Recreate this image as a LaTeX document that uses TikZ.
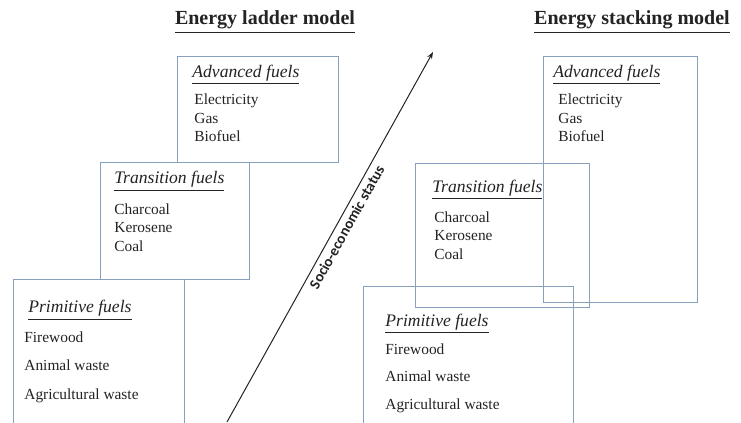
\documentclass[tikz,border=0pt]{standalone}
\usepackage{fontspec}
\setmainfont{Liberation Serif}
\newfontfamily\calibrifont{Carlito}
\usetikzlibrary{arrows.meta,fit}
\definecolor{boxblue}{RGB}{135,160,190}
\definecolor{inkgray}{RGB}{35,35,35}

\begin{document}
\begin{tikzpicture}[x=0.5pt,y=-0.5pt,
  fuelbox/.style={draw=boxblue, line width=0.5pt, inner sep=0pt},
  heading/.style={anchor=base, text=inkgray, font=\fontsize{10}{12}\selectfont\bfseries},
  fueltitle/.style={anchor=base west, inner sep=0pt, text=inkgray, font=\fontsize{8.8}{10}\selectfont\itshape},
  fuelitem/.style={anchor=base west, inner sep=0pt, text=inkgray, font=\fontsize{7.7}{9}\selectfont},
  statusarrow/.style={draw=inkgray, line width=0.5pt, -{Stealth[length=3.5pt,width=2.6pt]}}]
  \useasboundingbox (0,0) rectangle (741,423);
  \clip (0,0) rectangle (741,423);

  % Headings of the two models
  \node[heading] (ladderhead) at (265,25) {\underline{Energy ladder model}};
  \node[heading] (stackhead) at (632,25) {\underline{Energy stacking model}};

  % Energy ladder: one box on top of the other
  \node[fuelbox, fit={(177,56) (338,162)}] (ladadv) {};
  \node[fuelbox, fit={(100,162) (249,279)}] (ladtrans) {};
  \node[fuelbox, fit={(13,279) (184,430)}] (ladprim) {};

  \node[fueltitle] (ladadvtitle) at (192,77) {\underline{Advanced fuels}};
  \foreach \fuel [count=\i] in {Electricity,Gas,Biofuel} {\node[fuelitem] (ladadv\i) at (194,86+18.5*\i) {\fuel};}
  \node[fueltitle] (ladtranstitle) at (114,184) {\underline{Transition fuels}};
  \foreach \fuel [count=\i] in {Charcoal,Kerosene,Coal} {\node[fuelitem] (ladtrans\i) at (114,195.5+18.5*\i) {\fuel};}
  \node[fueltitle] (ladprimtitle) at (28,313) {\underline{Primitive fuels}};
  \foreach \fuel [count=\i] in {Firewood,Animal waste,Agricultural waste} {\node[fuelitem] (ladprim\i) at (24,315+28*\i) {\fuel};}

  % Energy stacking: overlapping boxes
  \node[fuelbox, fit={(543,56) (697,302)}] (stackadv) {};
  \node[fuelbox, fit={(415,163) (589,307)}] (stacktrans) {};
  \node[fuelbox, fit={(363,286) (573,430)}] (stackprim) {};

  \node[fueltitle] (stackadvtitle) at (553,77) {\underline{Advanced fuels}};
  \foreach \fuel [count=\i] in {Electricity,Gas,Biofuel} {\node[fuelitem] (stackadv\i) at (558,86+18.5*\i) {\fuel};}
  \node[fueltitle] (stacktranstitle) at (432,192) {\underline{Transition fuels}};
  \foreach \fuel [count=\i] in {Charcoal,Kerosene,Coal} {\node[fuelitem] (stacktrans\i) at (434,203.5+18.5*\i) {\fuel};}
  \node[fueltitle] (stackprimtitle) at (385,326) {\underline{Primitive fuels}};
  \foreach \fuel [count=\i] in {Firewood,Animal waste,Agricultural waste} {\node[fuelitem] (stackprim\i) at (385,326.5+27.5*\i) {\fuel};}

  % Socio-economic status arrow
  \coordinate (statuslow) at (227,422);
  \coordinate (statushigh) at (433,52);
  \draw[statusarrow] (statuslow) -- node[pos=0.54, sloped, anchor=north, inner sep=2pt, text=inkgray,
    font=\calibrifont\bfseries\fontsize{7.5}{9}\selectfont] (statuslabel) {Socio-economic status} (statushigh);
\end{tikzpicture}
\end{document}
